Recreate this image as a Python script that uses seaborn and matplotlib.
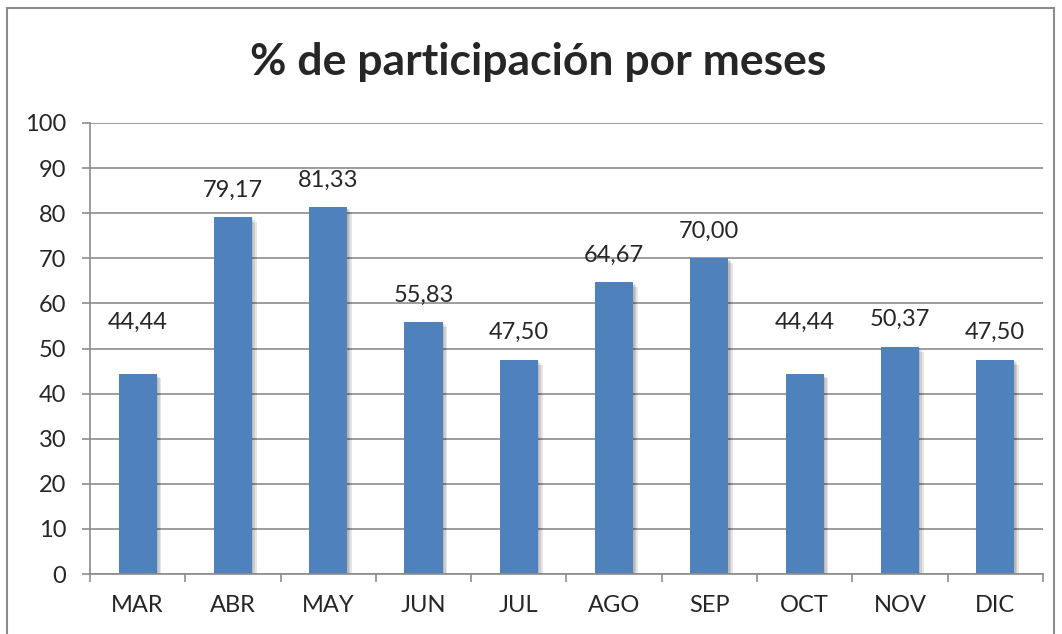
import matplotlib
matplotlib.use("Agg")
import matplotlib.pyplot as plt
import matplotlib.patheffects as pe
import seaborn as sns
import pandas as pd
from matplotlib.patches import Rectangle

# Data
months = ["MAR", "ABR", "MAY", "JUN", "JUL", "AGO", "SEP", "OCT", "NOV", "DIC"]
values = [44.44, 79.17, 81.33, 55.83, 47.50, 64.67, 70.00, 44.44, 50.37, 47.50]
y_ticks = [0, 10, 20, 30, 40, 50, 60, 70, 80, 90, 100]

df = pd.DataFrame({"mes": months, "pct": values})

sns.set_style("white")
plt.rcParams["font.family"] = ["Lato", "DejaVu Sans"]

fig = plt.figure(figsize=(10.62, 6.34), dpi=100)
ax = fig.add_axes([0.0847, 0.0946, 0.8973, 0.7114])

sns.barplot(data=df, x="mes", y="pct", ax=ax, color="#4F81BD", width=0.4, saturation=1)

# soft drop shadow on the bars
shadow = [pe.SimplePatchShadow(offset=(d, -d), shadow_rgbFace="black", alpha=0.1) for d in (1, 2.2, 3.4)]
for bar in ax.patches:
    bar.set_path_effects(shadow + [pe.Normal()])
    bar.set_edgecolor("none")

ax.set_ylim(0, 100)
ax.set_xlim(-0.5, len(months) - 0.5)
ax.set_yticks(y_ticks)
ax.yaxis.grid(True, color="#8c8c8c", linewidth=1.2)
ax.set_axisbelow(True)
ax.set_xlabel("")
ax.set_ylabel("")

for side in ["top", "right"]:
    ax.spines[side].set_visible(False)
for side in ["left", "bottom"]:
    ax.spines[side].set_color("#8c8c8c")
    ax.spines[side].set_linewidth(1.2)

ax.tick_params(axis="y", left=True, length=6, width=1.2, color="#8c8c8c", labelsize=17, pad=11)
ax.tick_params(axis="x", bottom=False, length=0, labelsize=17, pad=15)

# category boundary ticks on x axis
ax.set_xticks([i - 0.5 for i in range(len(months) + 1)], minor=True)
ax.tick_params(axis="x", which="minor", bottom=True, length=6, width=1.2, color="#8c8c8c")

# value labels (MAR and OCT labels sit a bit higher in the original)
for i, v in enumerate(values):
    lift = 11.3 if months[i] in ("MAR", "OCT") else 6
    ax.text(i, v + lift, f"{v:.2f}".replace(".", ","), ha="center", va="center", fontsize=17)

fig.text(0.507, 0.902, "% de participación por meses", ha="center", va="center",
         fontsize=32, fontweight="bold")

# outer chart border
fig.patches.append(Rectangle((0.007, -0.01), 0.985, 0.998, transform=fig.transFigure,
                             fill=False, edgecolor="#8c8c8c", linewidth=1.5))

fig.savefig("out.png", dpi=100)
